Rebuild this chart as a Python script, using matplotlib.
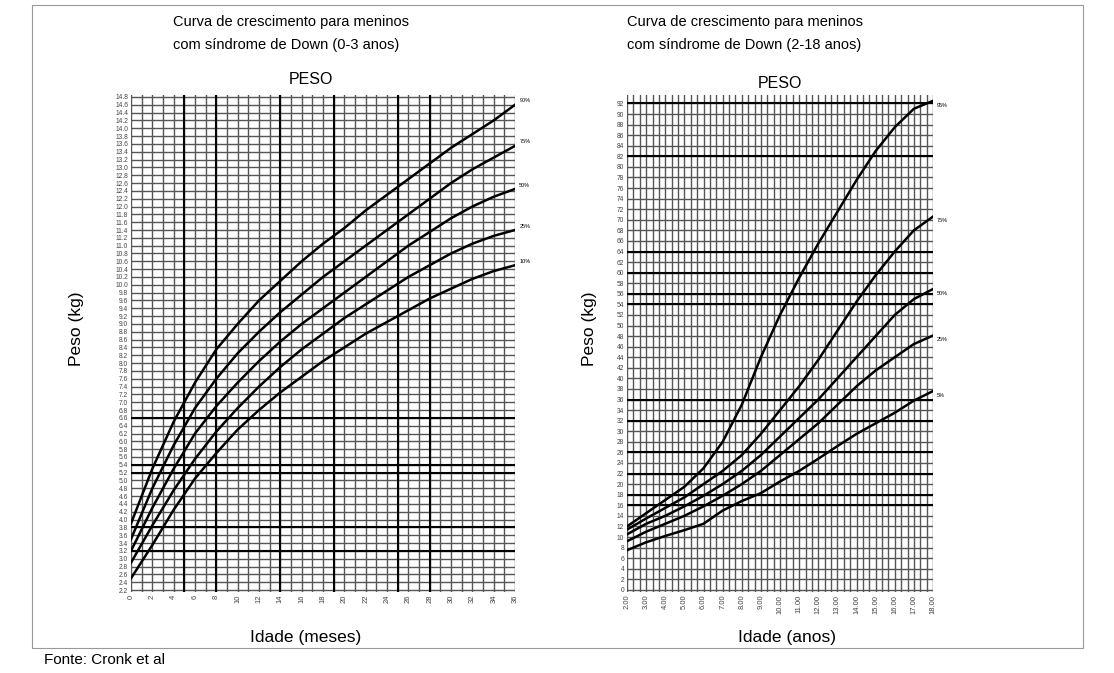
import numpy as np
import matplotlib
matplotlib.use('Agg')
import matplotlib.pyplot as plt
from matplotlib.patches import Rectangle

plt.rcParams['font.family'] = ['Liberation Sans', 'DejaVu Sans']

# 0-3 anos (meses)
meses = [0, 2, 4, 6, 8, 10, 12, 14, 16, 18, 20, 22, 24, 26, 28, 30, 32, 34, 36]
p90_m = [3.9, 5.3, 6.5, 7.5, 8.35, 9.0, 9.6, 10.1, 10.6, 11.05, 11.45, 11.9, 12.3, 12.7, 13.1, 13.5, 13.85, 14.2, 14.6]
p75_m = [3.5, 4.8, 5.9, 6.85, 7.6, 8.25, 8.8, 9.3, 9.75, 10.2, 10.6, 11.0, 11.4, 11.8, 12.2, 12.6, 12.95, 13.25, 13.55]
p50_m = [3.2, 4.3, 5.3, 6.2, 6.9, 7.5, 8.05, 8.55, 9.0, 9.4, 9.8, 10.2, 10.6, 11.0, 11.35, 11.7, 12.0, 12.25, 12.45]
p25_m = [2.9, 3.85, 4.75, 5.55, 6.25, 6.85, 7.4, 7.9, 8.35, 8.75, 9.15, 9.5, 9.85, 10.2, 10.5, 10.8, 11.05, 11.25, 11.4]
p10_m = [2.5, 3.35, 4.25, 5.05, 5.7, 6.3, 6.8, 7.25, 7.65, 8.05, 8.4, 8.75, 9.05, 9.35, 9.65, 9.9, 10.15, 10.35, 10.5]
lab_m = ['90%', '75%', '50%', '25%', '10%']

# 2-18 anos
anos = [2, 3, 4, 5, 6, 7, 8, 9, 10, 11, 12, 13, 14, 15, 16, 17, 18]
p95_a = [12.0, 14.5, 17.0, 19.5, 23.0, 28.0, 35.0, 44.0, 52.0, 59.0, 65.5, 71.5, 77.5, 83.0, 87.5, 91.0, 92.5]
p75_a = [11.4, 13.5, 15.5, 17.5, 20.0, 22.5, 25.5, 29.5, 34.0, 38.5, 43.5, 49.0, 54.5, 59.5, 64.0, 68.0, 70.6]
p50_a = [10.5, 12.5, 14.0, 15.8, 17.8, 20.0, 22.5, 25.5, 29.0, 32.5, 36.0, 40.0, 44.0, 48.0, 52.0, 55.0, 56.9]
p25_a = [9.2, 11.0, 12.5, 14.0, 15.8, 17.8, 20.0, 22.5, 25.5, 28.5, 31.5, 35.0, 38.5, 41.5, 44.0, 46.5, 48.1]
p5_a = [7.5, 9.0, 10.2, 11.3, 12.5, 15.0, 16.8, 18.3, 20.5, 22.5, 24.8, 27.2, 29.5, 31.5, 33.5, 35.8, 37.6]
lab_a = ['95%', '75%', '50%', '25%', '5%']

# linhas mais escuras (efeito da digitalizacao)
dark_v_m = [5, 8, 14, 19, 25, 28]
dark_h_m = [3.2, 3.8, 5.2, 5.4, 6.6]
dark_h_a = [16, 18, 22, 26, 32, 36, 54, 56, 60, 64, 82, 92]

W, H = 1114, 673
fig = plt.figure(figsize=(W / 100, H / 100), dpi=100)

fig.patches.append(Rectangle((32/W, 1-648/H), 1051/W, 643/H, transform=fig.transFigure,
                             fill=False, edgecolor='#999999', linewidth=0.8))

grid_c = '#555555'

# ---- grafico 1
ax1 = fig.add_axes([131/W, 1-592/H, 384/W, 497/H])
for m in np.arange(0, 37, 1):
    ax1.axvline(m, color=grid_c, lw=1.0, zorder=1)
for v in np.arange(2.2, 14.81, 0.2):
    ax1.axhline(v, color=grid_c, lw=1.0, zorder=1)
for m in dark_v_m:
    ax1.axvline(m, color='black', lw=1.5, zorder=2)
for v in dark_h_m:
    ax1.axhline(v, color='black', lw=1.5, zorder=2)
for serie, lab in zip([p90_m, p75_m, p50_m, p25_m, p10_m], lab_m):
    ax1.plot(meses, serie, color='black', lw=1.8, zorder=3)
    ax1.text(36.4, serie[-1] + 0.1, lab, fontsize=4, ha='left', va='center')
ax1.set_xlim(0, 36)
ax1.set_ylim(2.15, 14.85)
ax1.set_xticks(np.arange(0, 37, 2))
ax1.set_xticklabels([str(m) for m in range(0, 37, 2)], rotation=90, fontsize=5.5, color='#444444')
yt = np.round(np.arange(2.2, 14.81, 0.2), 1)
ax1.set_yticks(yt)
ax1.set_yticklabels(['%.1f' % v for v in yt], fontsize=4.8, color='#444444')
ax1.tick_params(length=0, pad=2)
for s in ax1.spines.values():
    s.set_visible(False)
ax1.set_xlabel('Idade (meses)', fontsize=12.5)
ax1.xaxis.set_label_coords((306-131)/384, -(630-592)/497)
ax1.set_ylabel('Peso (kg)', fontsize=12.5)
ax1.yaxis.set_label_coords(-(131-84)/384, (592-329)/497)

# ---- grafico 2
ax2 = fig.add_axes([627/W, 1-592/H, 306/W, 497/H])
for a in np.arange(2, 18.01, 1/3):
    ax2.axvline(a, color=grid_c, lw=1.0, zorder=1)
for v in np.arange(0, 94, 2):
    ax2.axhline(v, color=grid_c, lw=1.0, zorder=1)
for v in dark_h_a:
    ax2.axhline(v, color='black', lw=1.5, zorder=2)
for serie, lab in zip([p95_a, p75_a, p50_a, p25_a, p5_a], lab_a):
    ax2.plot(anos, serie, color='black', lw=1.8, zorder=3)
    ax2.text(18.2, serie[-1] - 0.8, lab, fontsize=4, ha='left', va='center')
ax2.set_xlim(2, 18)
ax2.set_ylim(-0.4, 93.6)
ax2.set_xticks(range(2, 19))
ax2.set_xticklabels(['%.2f' % a for a in range(2, 19)], rotation=90, fontsize=5.5, color='#444444')
ax2.set_yticks(range(0, 93, 2))
ax2.set_yticklabels([str(v) for v in range(0, 93, 2)], fontsize=4.8, color='#444444')
ax2.tick_params(length=0, pad=2)
for s in ax2.spines.values():
    s.set_visible(False)
ax2.set_xlabel('Idade (anos)', fontsize=12.5)
ax2.xaxis.set_label_coords((787-627)/306, -(630-592)/497)
ax2.set_ylabel('Peso (kg)', fontsize=12.5)
ax2.yaxis.set_label_coords(-(627-597)/306, (592-329)/497)

# titulos
fig.text(173/W, 1-22/H, 'Curva de crescimento para meninos', fontsize=10.5, ha='left', va='center')
fig.text(173/W, 1-45/H, 'com síndrome de Down (0-3 anos)', fontsize=10.5, ha='left', va='center')
fig.text(311/W, 1-80/H, 'PESO', fontsize=11.5, ha='center', va='center')
fig.text(627/W, 1-22/H, 'Curva de crescimento para meninos', fontsize=10.5, ha='left', va='center')
fig.text(627/W, 1-45/H, 'com síndrome de Down (2-18 anos)', fontsize=10.5, ha='left', va='center')
fig.text(780/W, 1-83/H, 'PESO', fontsize=11.5, ha='center', va='center')
fig.text(44/W, 1-660/H, 'Fonte: Cronk et al', fontsize=11, ha='left', va='center')

fig.savefig('out.png', dpi=100)
